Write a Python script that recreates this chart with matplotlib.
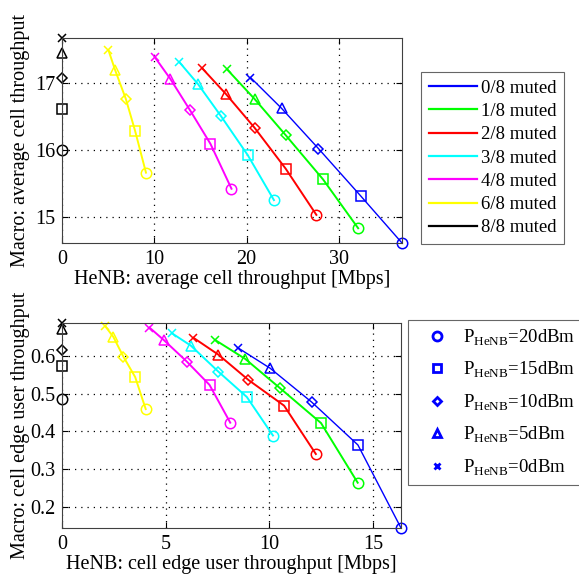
import matplotlib
matplotlib.use("Agg")
import matplotlib.pyplot as plt
from matplotlib.lines import Line2D

plt.rcParams['font.family'] = ['Liberation Serif', 'DejaVu Serif']
plt.rcParams['mathtext.fontset'] = 'custom'
plt.rcParams['mathtext.rm'] = 'Liberation Serif'

# === data ===
series = ["0/8 muted", "1/8 muted", "2/8 muted", "3/8 muted",
          "4/8 muted", "6/8 muted", "8/8 muted"]
colors = ["#0000ff", "#00ff00", "#ff0000", "#00ffff",
          "#ff00ff", "#ffff00", "#000000"]
widths = [1.0, 1.4, 1.4, 1.4, 1.4, 1.4, 1.4]
# marker order per curve: 0dBm, 5dBm, 10dBm, 15dBm, 20dBm
markers = ["x", "^", "D", "s", "o"]
power_labels = [r"P$_\mathregular{HeNB}$=20dBm", r"P$_\mathregular{HeNB}$=15dBm",
                r"P$_\mathregular{HeNB}$=10dBm", r"P$_\mathregular{HeNB}$=5dBm",
                r"P$_\mathregular{HeNB}$=0dBm"]

avg_henb = [
    [20.43, 23.80, 27.79, 32.39, 36.85],
    [17.90, 20.87, 24.24, 28.29, 32.10],
    [15.18, 17.79, 20.87, 24.24, 27.57],
    [12.72, 14.75, 17.25, 20.14, 22.97],
    [10.03, 11.74, 13.84, 16.09, 18.37],
    [5.03, 5.76, 6.92, 7.93, 9.10],
    [0.0, 0.0, 0.0, 0.0, 0.0],
]
avg_macro = [
    [17.08, 16.62, 16.02, 15.31, 14.61],
    [17.20, 16.76, 16.22, 15.56, 14.83],
    [17.22, 16.83, 16.33, 15.72, 15.03],
    [17.31, 16.98, 16.50, 15.92, 15.25],
    [17.39, 17.06, 16.60, 16.09, 15.42],
    [17.49, 17.19, 16.76, 16.28, 15.66],
    [17.67, 17.45, 17.07, 16.61, 16.00],
]
edge_henb = [
    [8.47, 10.05, 12.06, 14.28, 16.36],
    [7.39, 8.84, 10.53, 12.50, 14.27],
    [6.34, 7.55, 9.00, 10.72, 12.25],
    [5.30, 6.22, 7.55, 8.92, 10.18],
    [4.22, 4.93, 6.02, 7.12, 8.12],
    [2.08, 2.48, 2.96, 3.53, 4.04],
    [0.0, 0.0, 0.0, 0.0, 0.0],
]
edge_macro = [
    [0.622, 0.567, 0.477, 0.364, 0.144],
    [0.642, 0.592, 0.514, 0.422, 0.264],
    [0.648, 0.603, 0.536, 0.468, 0.340],
    [0.660, 0.627, 0.558, 0.491, 0.389],
    [0.675, 0.641, 0.585, 0.523, 0.423],
    [0.679, 0.650, 0.598, 0.544, 0.459],
    [0.687, 0.672, 0.616, 0.572, 0.485],
]

W, H = 579, 579
FS = 14.5
fig = plt.figure(figsize=(W / 100, H / 100), dpi=100)
ax1 = fig.add_axes([62 / W, 1 - 243 / H, 340 / W, 205 / H])
ax2 = fig.add_axes([62 / W, 1 - 528 / H, 339 / W, 205 / H])

msize = {"x": 5.5, "^": 7, "D": 5.5, "s": 7, "o": 7.5}


def draw(ax, xs, ys):
    for x, y, c, lw in zip(xs, ys, colors, widths):
        ax.plot(x, y, '-', color=c, lw=lw)
        for xi, yi, m in zip(x, y, markers):
            ax.plot(xi, yi, m, color=c, mfc='none', ms=msize[m], mew=1.1, clip_on=False)
    allx = [v for row in xs for v in row]
    ally = [v for row in ys for v in row]
    ax.set_xlim(0, max(allx))
    ax.set_ylim(min(ally), max(ally))
    ax.grid(True, color='black', linestyle=(0, (1, 4)), lw=0.9)
    ax.tick_params(direction='in', labelsize=FS, length=4, top=True, right=True, pad=5)
    for s in ax.spines.values():
        s.set_linewidth(0.8)
        s.set_color('#404040')


draw(ax1, avg_henb, avg_macro)
ax1.set_xticks([0, 10, 20, 30])
ax1.set_yticks([15, 16, 17])
ax1.set_xlabel("HeNB: average cell throughput [Mbps]", fontsize=FS, labelpad=1)
ax1.set_ylabel("Macro: average cell throughput", fontsize=FS)
ax1.yaxis.set_label_coords(-0.094, 0.5)

draw(ax2, edge_henb, edge_macro)
ax2.set_xticks([0, 5, 10, 15])
ax2.set_yticks([0.2, 0.3, 0.4, 0.5, 0.6])
ax2.set_xlabel("HeNB: cell edge user throughput [Mbps]", fontsize=FS, labelpad=1)
ax2.set_ylabel("Macro: cell edge user throughput", fontsize=FS)
ax2.yaxis.set_label_coords(-0.094, 0.5)

h1 = [Line2D([], [], color=c, lw=1.6) for c in colors]
leg1 = fig.legend(h1, series, loc='upper left', bbox_to_anchor=(421 / W, 1 - 72 / H),
                  fontsize=13.5, frameon=True, fancybox=False, edgecolor='#404040',
                  handlelength=2.6, handletextpad=0.2, labelspacing=0.33,
                  borderpad=0.4, borderaxespad=0)
leg1.get_frame().set_linewidth(0.8)

h2 = [Line2D([], [], color='#0000ff', marker=m, ls='none', mfc='none', mew=2,
             ms=msize[m] - 1) for m in markers[::-1]]
leg2 = fig.legend(h2, power_labels, loc='upper left', bbox_to_anchor=(408 / W, 1 - 320 / H),
                  fontsize=13.5, frameon=True, fancybox=False, edgecolor='#404040',
                  handlelength=2.3, handletextpad=0.25, labelspacing=0.65,
                  borderpad=0.4, borderaxespad=0)
leg2.get_frame().set_linewidth(0.8)

fig.savefig("out.png", dpi=100)
